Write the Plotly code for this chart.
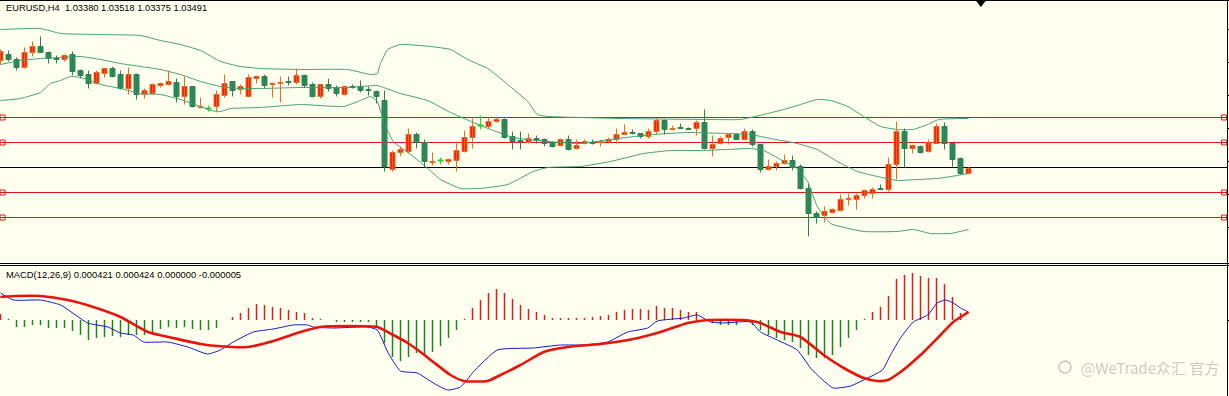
import plotly.graph_objects as go

# ---------------- data (EURUSD H4, candle index 0..121) ----------------
open_ = [1.0457, 1.0463, 1.0458, 1.0450, 1.0465, 1.0471, 1.0465, 1.0459, 1.0458, 1.0463,
         1.0447, 1.0443, 1.0434, 1.0444, 1.0449, 1.0443, 1.0429, 1.0443, 1.0423, 1.0424,
         1.0432, 1.0433, 1.0435, 1.0421, 1.0431, 1.0410, 1.0409, 1.0411, 1.0422, 1.0436,
         1.0428, 1.0421, 1.0439, 1.0441, 1.0433, 1.0434, 1.0436, 1.0435, 1.0442, 1.0433,
         1.0421, 1.0433, 1.0430, 1.0423, 1.0431, 1.0431, 1.0428, 1.0426, 1.0417, 1.0348,
         1.0365, 1.0366, 1.0383, 1.0375, 1.0355, 1.0357, 1.0356, 1.0357, 1.0366, 1.0380,
         1.0392, 1.0391, 1.0396, 1.0398, 1.0381, 1.0377, 1.0375, 1.0379, 1.0378, 1.0375,
         1.0372, 1.0378, 1.0369, 1.0374, 1.0375, 1.0375, 1.0376, 1.0378, 1.0383, 1.0385,
         1.0384, 1.0381, 1.0386, 1.0397, 1.0388, 1.0390, 1.0389, 1.0389, 1.0395, 1.0369,
         1.0374, 1.0380, 1.0383, 1.0378, 1.0386, 1.0373, 1.0348, 1.0351, 1.0354, 1.0357,
         1.0351, 1.0329, 1.0304, 1.0302, 1.0305, 1.0307, 1.0318, 1.0318, 1.0322, 1.0324,
         1.0329, 1.0328, 1.0353, 1.0386, 1.0369, 1.0371, 1.0366, 1.0374, 1.0391, 1.0374,
         1.0359, 1.0344]
high = [1.0468, 1.0467, 1.0460, 1.0470, 1.0476, 1.0481, 1.0466, 1.0462, 1.0463, 1.0466,
        1.0448, 1.0447, 1.0447, 1.0449, 1.0451, 1.0447, 1.0450, 1.0444, 1.0429, 1.0434,
        1.0435, 1.0447, 1.0439, 1.0441, 1.0431, 1.0420, 1.0412, 1.0427, 1.0443, 1.0436,
        1.0433, 1.0443, 1.0442, 1.0443, 1.0435, 1.0441, 1.0441, 1.0449, 1.0443, 1.0435,
        1.0433, 1.0439, 1.0432, 1.0432, 1.0433, 1.0437, 1.0431, 1.0427, 1.0427, 1.0367,
        1.0371, 1.0389, 1.0385, 1.0378, 1.0365, 1.0360, 1.0359, 1.0376, 1.0387, 1.0399,
        1.0402, 1.0400, 1.0400, 1.0399, 1.0386, 1.0386, 1.0384, 1.0382, 1.0379, 1.0376,
        1.0379, 1.0382, 1.0378, 1.0378, 1.0378, 1.0378, 1.0380, 1.0389, 1.0393, 1.0388,
        1.0384, 1.0389, 1.0399, 1.0398, 1.0392, 1.0394, 1.0390, 1.0397, 1.0408, 1.0382,
        1.0381, 1.0384, 1.0384, 1.0389, 1.0388, 1.0373, 1.0358, 1.0356, 1.0363, 1.0362,
        1.0353, 1.0333, 1.0306, 1.0311, 1.0309, 1.0323, 1.0324, 1.0324, 1.0328, 1.0330,
        1.0333, 1.0360, 1.0396, 1.0389, 1.0373, 1.0372, 1.0378, 1.0394, 1.0395, 1.0375,
        1.0360, 1.0351]
low = [1.0453, 1.0456, 1.0447, 1.0449, 1.0461, 1.0465, 1.0454, 1.0454, 1.0456, 1.0442,
       1.0439, 1.0429, 1.0433, 1.0440, 1.0440, 1.0428, 1.0423, 1.0418, 1.0419, 1.0423,
       1.0430, 1.0432, 1.0415, 1.0413, 1.0410, 1.0409, 1.0406, 1.0405, 1.0420, 1.0421,
       1.0423, 1.0420, 1.0434, 1.0429, 1.0420, 1.0415, 1.0432, 1.0433, 1.0430, 1.0420,
       1.0419, 1.0426, 1.0421, 1.0422, 1.0429, 1.0425, 1.0422, 1.0414, 1.0346, 1.0346,
       1.0361, 1.0364, 1.0369, 1.0350, 1.0352, 1.0353, 1.0353, 1.0346, 1.0365, 1.0369,
       1.0388, 1.0389, 1.0395, 1.0379, 1.0368, 1.0368, 1.0374, 1.0374, 1.0371, 1.0370,
       1.0371, 1.0367, 1.0368, 1.0373, 1.0373, 1.0371, 1.0374, 1.0374, 1.0383, 1.0383,
       1.0379, 1.0379, 1.0383, 1.0383, 1.0387, 1.0389, 1.0388, 1.0382, 1.0368, 1.0361,
       1.0373, 1.0373, 1.0378, 1.0377, 1.0371, 1.0345, 1.0347, 1.0347, 1.0353, 1.0347,
       1.0328, 1.0281, 1.0294, 1.0295, 1.0304, 1.0306, 1.0312, 1.0308, 1.0319, 1.0319,
       1.0328, 1.0326, 1.0338, 1.0350, 1.0364, 1.0364, 1.0365, 1.0374, 1.0368, 1.0351,
       1.0343, 1.0343]
close = [1.0466, 1.0458, 1.0450, 1.0465, 1.0471, 1.0465, 1.0459, 1.0458, 1.0462, 1.0446,
         1.0442, 1.0434, 1.0445, 1.0449, 1.0441, 1.0429, 1.0443, 1.0423, 1.0427, 1.0433,
         1.0434, 1.0436, 1.0421, 1.0431, 1.0411, 1.0411, 1.0409, 1.0423, 1.0434, 1.0427,
         1.0431, 1.0440, 1.0441, 1.0432, 1.0434, 1.0435, 1.0435, 1.0442, 1.0432, 1.0421,
         1.0433, 1.0429, 1.0424, 1.0431, 1.0430, 1.0427, 1.0427, 1.0421, 1.0351, 1.0365,
         1.0368, 1.0383, 1.0375, 1.0356, 1.0356, 1.0357, 1.0358, 1.0367, 1.0380, 1.0391,
         1.0392, 1.0396, 1.0398, 1.0380, 1.0376, 1.0376, 1.0379, 1.0377, 1.0374, 1.0371,
         1.0378, 1.0368, 1.0372, 1.0376, 1.0374, 1.0376, 1.0378, 1.0383, 1.0385, 1.0384,
         1.0381, 1.0386, 1.0397, 1.0388, 1.0389, 1.0389, 1.0388, 1.0395, 1.0369, 1.0373,
         1.0379, 1.0383, 1.0378, 1.0386, 1.0373, 1.0348, 1.0351, 1.0354, 1.0357, 1.0350,
         1.0329, 1.0304, 1.0300, 1.0306, 1.0308, 1.0318, 1.0319, 1.0322, 1.0327, 1.0328,
         1.0328, 1.0353, 1.0386, 1.0369, 1.0372, 1.0365, 1.0375, 1.0391, 1.0374, 1.0358,
         1.0344, 1.0349]

# Bollinger bands, read at sample candle positions
upper_x = [0, 5, 7.5, 12.5, 17.5, 20, 22.5, 25, 27.5, 30, 32.5, 37.5, 43.4, 46.25, 47.1, 47.5,
           48.4, 50, 53.75, 56.25, 58.4, 60.9, 63.4, 65.9, 67.1, 68.4, 72.5, 77.5, 88.4, 92.5,
           95.4, 97.9, 100, 102.1, 103.75, 105.9, 107.9, 110, 112.1, 114.1, 115.9, 117.25, 121]
upper_v = [1.0488, 1.0489, 1.0484, 1.0483, 1.0482, 1.0477, 1.0473, 1.0467, 1.0456, 1.0451,
           1.0449, 1.0448, 1.0448, 1.0443, 1.0444, 1.0454, 1.0468, 1.0473, 1.0471, 1.0468,
           1.0458, 1.0449, 1.0433, 1.0416, 1.0403, 1.0401, 1.0400, 1.0399, 1.0398, 1.0398,
           1.0403, 1.0408, 1.0413, 1.0418, 1.0417, 1.0411, 1.0401, 1.0391, 1.0388, 1.0388,
           1.0393, 1.0398, 1.0399]
mid_x = [0, 2.5, 5, 7.5, 10, 12.5, 15, 17.5, 20, 22.5, 25, 27.5, 30, 32.5, 37.5, 43.4, 47.1,
         47.9, 50, 53.4, 56.25, 60, 64.1, 68.4, 72.5, 77.1, 81.6, 85.9, 90.9, 93.75, 96.25,
         99.6, 102.1, 104.6, 107.1, 109.6, 112.1, 114.6, 117.1, 119.6, 121]
mid_v = [1.0453, 1.0457, 1.0459, 1.0460, 1.0461, 1.0458, 1.0454, 1.0451, 1.0448, 1.0443,
         1.0436, 1.0431, 1.0429, 1.0429, 1.0430, 1.0430, 1.0432, 1.0430, 1.0424, 1.0417,
         1.0405, 1.0392, 1.0380, 1.0376, 1.0374, 1.0379, 1.0383, 1.0385, 1.0384, 1.0383,
         1.0379, 1.0374, 1.0368, 1.0356, 1.0346, 1.0341, 1.0337, 1.0338, 1.0339, 1.0342,
         1.0344]
lower_x = [0, 2.5, 5, 6.25, 7.5, 8.75, 10, 12.5, 15, 17.5, 20, 22.5, 25, 26.25, 27.5, 28.75,
           32.5, 37.5, 42.9, 45, 46.25, 47.1, 47.9, 49.1, 51.6, 53.4, 55, 57.5, 60, 63.4, 66.6,
           68.4, 72.5, 76.25, 80.4, 83.75, 87.5, 90.9, 93.75, 95.4, 97.5, 99.6, 100.9, 102.1,
           103.75, 107.9, 112.1, 114.1, 116.25, 118.75, 121]
lower_v = [1.0417, 1.0419, 1.0425, 1.0434, 1.0437, 1.0441, 1.0440, 1.0433, 1.0429, 1.0424,
           1.0423, 1.0418, 1.0411, 1.0407, 1.0406, 1.0409, 1.0410, 1.0413, 1.0411, 1.0417,
           1.0421, 1.0416, 1.0396, 1.0376, 1.0361, 1.0349, 1.0338, 1.0329, 1.0329, 1.0333,
           1.0346, 1.0350, 1.0351, 1.0356, 1.0364, 1.0367, 1.0367, 1.0368, 1.0369, 1.0367,
           1.0358, 1.0349, 1.0336, 1.0311, 1.0294, 1.0286, 1.0286, 1.0288, 1.0284, 1.0284,
           1.0288]

# horizontal levels
red_levels = [1.0400, 1.0375, 1.0325, 1.0300]
black_level = 1.0350

# MACD pane
hist = [0.0003, 0.00005, -0.00035, -0.00035, -0.00025, -0.00025, -0.0004, -0.0004, -0.0004, -0.00055,
        -0.00075, -0.001, -0.0009, -0.00085, -0.0008, -0.00085, -0.00075, -0.00075, -0.00075, -0.0006,
        -0.00045, -0.00035, -0.0004, -0.00035, -0.00045, -0.0005, -0.0005, -0.0004, 0.0, 0.00015,
        0.00035, 0.0006, 0.0008, 0.00075, 0.00065, 0.0006, 0.0005, 0.0004, 0.00035, 0.0001,
        0.00005, 0.0, -0.0001, -0.0001, -0.0001, -0.0001, -0.0001, -0.00035, -0.00115, -0.00185,
        -0.00205, -0.00185, -0.00165, -0.0017, -0.0016, -0.0013, -0.0009, -0.0005, 0.00005, 0.0006,
        0.001, 0.00135, 0.00155, 0.00135, 0.00105, 0.00075, 0.00055, 0.0004, 0.00025, 0.0001,
        0.0001, 0.0001, 0.0001, 0.0001, 0.00015, 0.0002, 0.00025, 0.0004, 0.0005, 0.00055,
        0.00055, 0.0005, 0.0007, 0.0006, 0.0006, 0.0005, 0.0004, 0.0004, 0.0, -0.00015,
        -0.00025, -0.00025, -0.00025, -0.0001, -0.00025, -0.0005, -0.00075, -0.0009, -0.001, -0.0011,
        -0.0014, -0.00175, -0.0019, -0.0019, -0.00175, -0.00135, -0.0009, -0.0005, 0.00005, 0.0004,
        0.00065, 0.0012, 0.00205, 0.00225, 0.00235, 0.0022, 0.0021, 0.0021, 0.0018, 0.00115,
        0.00035, -0.000005]
macd_x = [0, 1.6, 5, 7.5, 10.9, 13.4, 15, 16.6, 17.9, 20.9, 23.4, 25.9, 27.5, 29.1, 31.6, 34.1,
          36.6, 38.4, 39.1, 41.6, 45.9, 47.1, 48.4, 50, 52.1, 54.1, 55.9, 57.5, 59.1, 62.1, 66.6,
          70, 72.9, 75.9, 78.4, 80.9, 82.1, 85.4, 87.1, 88.75, 90.4, 93.75, 95, 97.1, 99.6,
          101.25, 102.5, 104.1, 106.25, 108.4, 110.25, 111.25, 112.5, 114.1, 115.9, 117.1,
          118.1, 119.1, 120, 121]
macd_v = [0.00135, 0.001, 0.001, 0.00075, -0.00015, -0.00035, -0.00065, -0.00075, -0.0011, -0.0011,
          -0.00135, -0.0017, -0.0015, -0.0011, -0.0006, -0.00045, -0.00025, -0.00025, -0.00035, -0.0004,
          -0.00035, -0.0005, -0.0016, -0.00255, -0.00265, -0.00315, -0.0035, -0.00335, -0.0026, -0.0015,
          -0.0014, -0.00125, -0.00125, -0.0011, -0.0006, -0.0004, -0.00005, 0.0001, 0.00025, -0.0001,
          -0.00015, -0.0001, -0.0006, -0.001, -0.0015, -0.0024, -0.0029, -0.0034, -0.0033, -0.0029,
          -0.0025, -0.00175, -0.0009, -0.0001, 0.00025, 0.00085, 0.001, 0.00085, 0.0006, 0.0004]
sig_x = [0, 2.1, 5, 8.4, 11.6, 15, 18.4, 21.6, 25, 27.1, 30.9, 34.1, 37.5, 40, 43.75, 47.1, 49.1,
         50.9, 52.5, 54.1, 56.25, 57.9, 60.9, 62.5, 65, 67.9, 70.9, 75, 79.1, 82.5, 85.9, 88.4,
         92.9, 95, 97.5, 100, 102.9, 105.4, 107.9, 109.6, 110.9, 112.5, 115, 117.5, 119.1, 121]
sig_v = [0.00115, 0.0012, 0.0012, 0.001, 0.00065, 0.00015, -0.0006, -0.0009, -0.0012, -0.0013,
         -0.00135, -0.00105, -0.0006, -0.00035, -0.0003, -0.00035, -0.00075, -0.00115, -0.0016, -0.0021,
         -0.00275, -0.00305, -0.00305, -0.00275, -0.00225, -0.0016, -0.00135, -0.0012, -0.00095, -0.0006,
         -0.00015, 0.0, 0.0, -0.00015, -0.0006, -0.00085, -0.00175, -0.0024, -0.0029, -0.00305,
         -0.003, -0.0026, -0.00175, -0.00075, -0.0001, 0.0004]

title_text = "EURUSD,H4  1.03380 1.03518 1.03375 1.03491"
macd_text = "MACD(12,26,9) 0.000421 0.000424 0.000000 -0.000005"
watermark = "@WeTrade众汇 官方"

# ---------------- styling ----------------
W, H = 1229, 396
BG = "#fffff0"
UP_FILL, UP_EDGE = "#f81e0c", "#ee6a1c"
DN_FILL, DN_EDGE = "#2e8b57", "#2b8250"
DOJI = "#22d622"
BAND = "#43a077"
LVL_RED = "#e01414"
Y_TOP = 1.05175           # price at the top pixel row of the main pane
Y_SPAN = 0.0262           # 262 px main pane

def px_x(p):
    return p / W

def px_y(p):
    return 1 - p / H

fig = go.Figure()

# Bollinger bands
for bx, bv in ((upper_x, upper_v), (mid_x, mid_v), (lower_x, lower_v)):
    fig.add_trace(go.Scatter(x=bx, y=bv, mode="lines",
                             line=dict(color=BAND, width=1, shape="spline", smoothing=0.4),
                             xaxis="x", yaxis="y", hoverinfo="skip"))

idx = list(range(len(open_)))
up = [i for i in idx if close[i] > open_[i]]
dn = [i for i in idx if close[i] < open_[i]]
dj = [i for i in idx if close[i] == open_[i]]

def wick_xy(ids):
    xs, ys = [], []
    for i in ids:
        xs += [i, i, None]
        ys += [high[i], low[i], None]
    return xs, ys

MINB = 0.00011
for ids, fill, edge in ((up, UP_FILL, UP_EDGE), (dn, DN_FILL, DN_EDGE), (dj, DOJI, DOJI)):
    wx, wy = wick_xy(ids)
    fig.add_trace(go.Scatter(x=wx, y=wy, mode="lines", line=dict(color=edge, width=1),
                             xaxis="x", yaxis="y", hoverinfo="skip"))
    base, hgt = [], []
    for i in ids:
        d = abs(close[i] - open_[i])
        if d < MINB:
            mid = (close[i] + open_[i]) / 2
            base.append(mid - MINB / 2)
            hgt.append(MINB)
        else:
            base.append(min(open_[i], close[i]))
            hgt.append(d)
    fig.add_trace(go.Bar(x=ids, y=hgt, base=base, width=0.62,
                         marker=dict(color=fill, line=dict(color=edge, width=1)),
                         xaxis="x", yaxis="y", hoverinfo="skip"))

# level end squares
sq_x, sq_y = [], []
for lv in red_levels:
    sq_x += [0.25, 152.95]
    sq_y += [lv, lv]
fig.add_trace(go.Scatter(x=sq_x, y=sq_y, mode="markers",
                         marker=dict(symbol="square-open", size=5, color=LVL_RED,
                                     line=dict(color=LVL_RED, width=1)),
                         xaxis="x", yaxis="y", hoverinfo="skip", cliponaxis=False))

# chart shift marker
fig.add_trace(go.Scatter(x=[122.55], y=[Y_TOP - 0.00025], mode="markers",
                         marker=dict(symbol="triangle-down", size=9, color="black"),
                         xaxis="x", yaxis="y", hoverinfo="skip", cliponaxis=False))

# MACD histogram
for sign, col in ((1, "#e01b1b"), (-1, "#15881c")):
    hx, hy = [], []
    for i, v in enumerate(hist):
        if v * sign > 0:
            hx += [i, i, None]
            hy += [0, v, None]
    fig.add_trace(go.Scatter(x=hx, y=hy, mode="lines", line=dict(color=col, width=1.5),
                             xaxis="x", yaxis="y2", hoverinfo="skip"))

fig.add_trace(go.Scatter(x=macd_x, y=macd_v, mode="lines",
                         line=dict(color="#1616cc", width=1, shape="spline", smoothing=0.5),
                         xaxis="x", yaxis="y2", hoverinfo="skip"))
fig.add_trace(go.Scatter(x=sig_x, y=sig_v, mode="lines",
                         line=dict(color="#e8140c", width=2.6, shape="spline", smoothing=0.5),
                         xaxis="x", yaxis="y2", hoverinfo="skip"))

shapes = []
# horizontal levels
for lv in red_levels:
    shapes.append(dict(type="line", xref="paper", yref="y", x0=0, x1=px_x(1227), y0=lv, y1=lv,
                       line=dict(color=LVL_RED, width=1), layer="below"))
shapes.append(dict(type="line", xref="paper", yref="y", x0=0, x1=px_x(1227), y0=black_level,
                   y1=black_level, line=dict(color="black", width=1), layer="below"))
# frame lines
for yy in (0.5, 263.5, 265.5):
    shapes.append(dict(type="line", xref="paper", yref="paper", x0=0, x1=1, y0=px_y(yy), y1=px_y(yy),
                       line=dict(color="black", width=1)))
shapes.append(dict(type="line", xref="paper", yref="paper", x0=px_x(1227.5), x1=px_x(1227.5),
                   y0=0, y1=1, line=dict(color="black", width=1)))
for ty in (29.5, 62.5, 95.5, 128.5, 161.5, 194.5, 227.5, 320.5):
    shapes.append(dict(type="line", xref="paper", yref="paper", x0=px_x(1227.5), x1=px_x(1231),
                       y0=px_y(ty), y1=px_y(ty), line=dict(color="black", width=1)))
# watermark icon
shapes.append(dict(type="circle", xref="paper", yref="paper",
                   x0=px_x(1059), x1=px_x(1071), y0=px_y(373), y1=px_y(361),
                   line=dict(color="rgba(150,150,150,0.55)", width=1.5)))

annotations = [
    dict(text=title_text, x=px_x(4), y=px_y(8), xref="paper", yref="paper",
         xanchor="left", yanchor="middle", showarrow=False,
         font=dict(family="Liberation Sans, Arial, sans-serif", size=9.3, color="black")),
    dict(text=macd_text, x=px_x(4), y=px_y(274.5), xref="paper", yref="paper",
         xanchor="left", yanchor="middle", showarrow=False,
         font=dict(family="Liberation Sans, Arial, sans-serif", size=9.4, color="black")),
    dict(text=watermark, x=px_x(1079), y=px_y(367), xref="paper", yref="paper",
         xanchor="left", yanchor="middle", showarrow=False,
         font=dict(family="Noto Sans CJK SC, sans-serif", size=15, color="rgba(150,150,150,0.5)")),
]

fig.update_layout(
    width=W, height=H,
    margin=dict(l=0, r=0, t=0, b=0, autoexpand=False),
    paper_bgcolor=BG, plot_bgcolor=BG,
    showlegend=False, barmode="overlay", hovermode=False,
    xaxis=dict(range=[-0.0625, 153.5625], visible=False, showgrid=False, zeroline=False,
               anchor="y2"),
    yaxis=dict(domain=[1 - 262 / H, 1], range=[Y_TOP - Y_SPAN, Y_TOP], visible=False,
               showgrid=False, zeroline=False),
    yaxis2=dict(domain=[0, (H - 265) / H], range=[-0.0038, 0.00275], visible=False,
                showgrid=False, zeroline=False),
    shapes=shapes, annotations=annotations,
)

fig.write_html("out.html", config={"displayModeBar": False, "staticPlot": True},
               post_script="document.body.style.margin='0';document.body.style.background='#fffff0';")
